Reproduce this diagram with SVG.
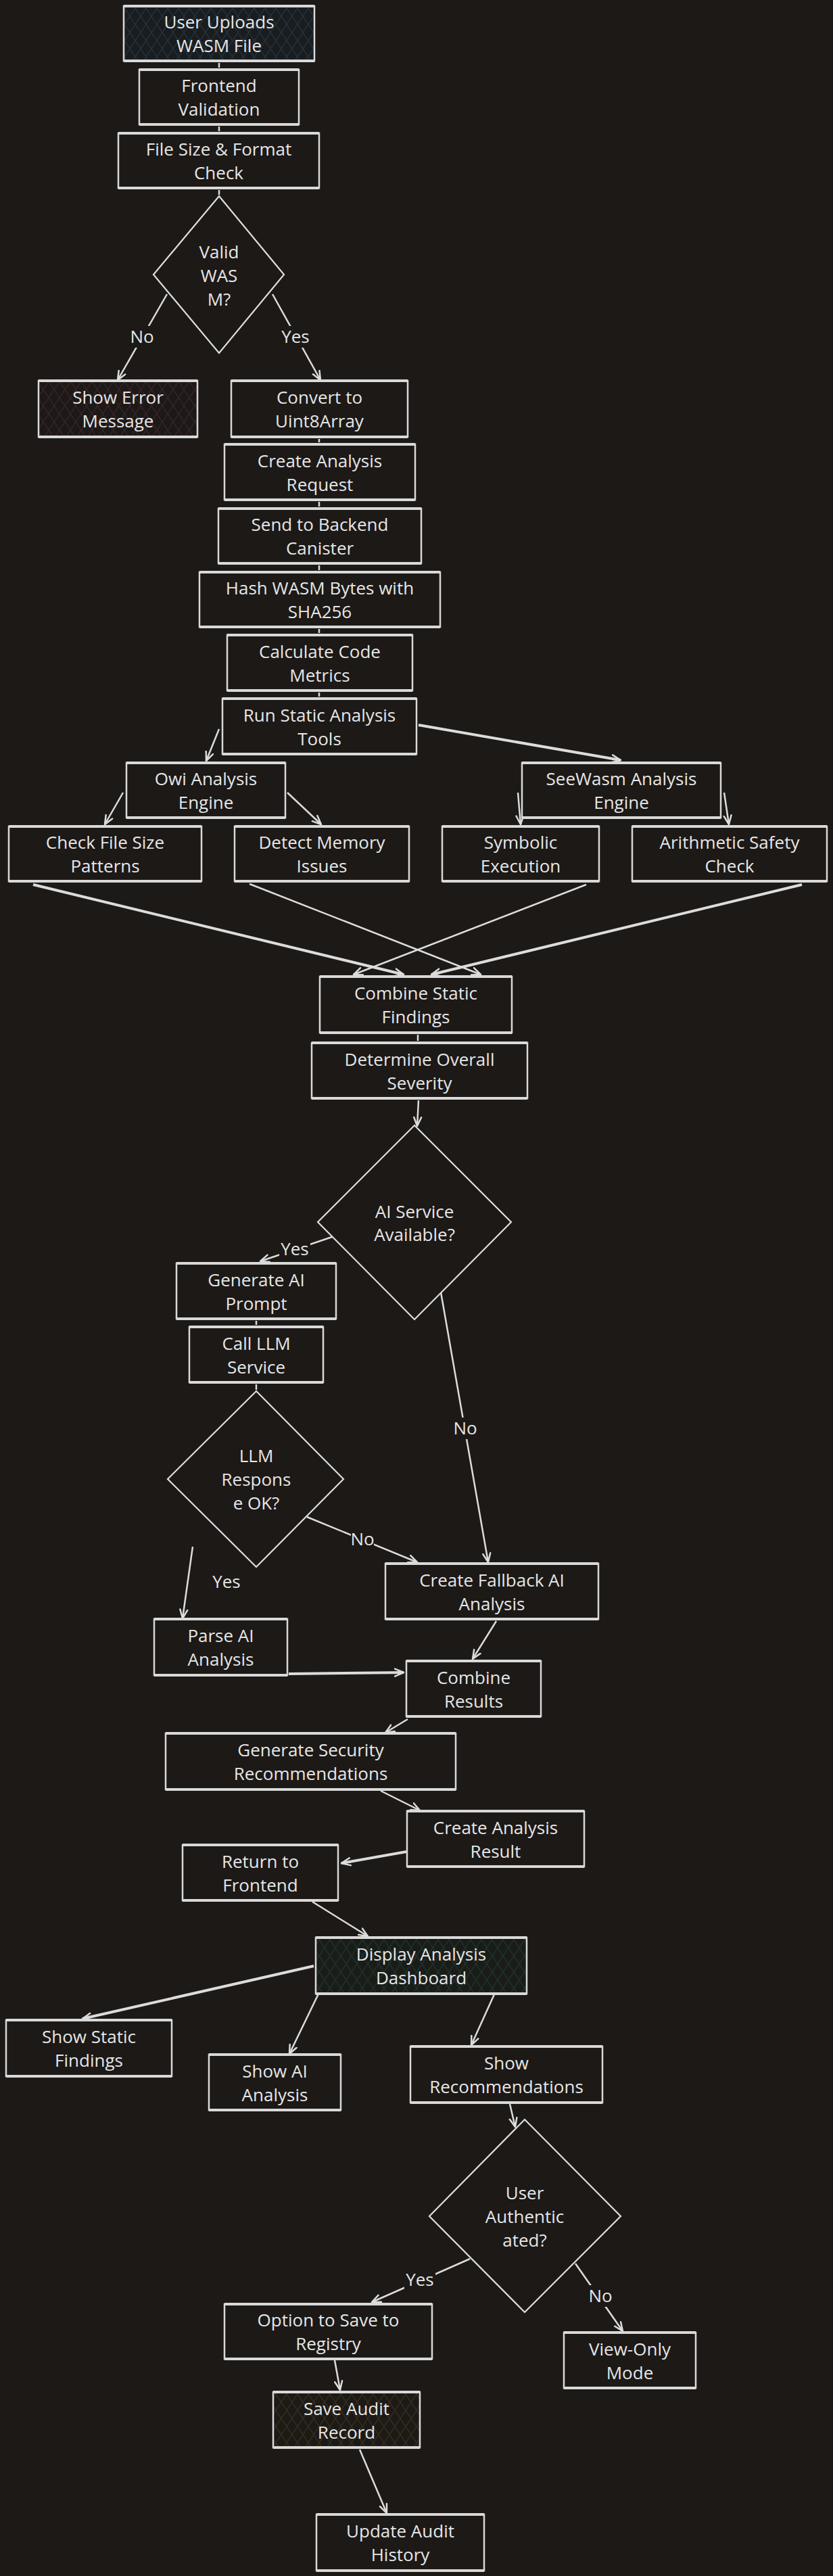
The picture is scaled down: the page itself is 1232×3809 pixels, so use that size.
<svg xmlns="http://www.w3.org/2000/svg" width="1232" height="3809" viewBox="0 0 1232 3809">
<style>
.bg{fill:#1c1917}
.box{fill:#1c1917;stroke:#d9d9d9;stroke-width:2.5}
.edge{stroke:#d9d9d9;stroke-width:4;fill:none}
.dia{fill:#1c1917;stroke:#dedede;stroke-width:2.2}
.t{font-family:"Open Sans","Noto Sans",sans-serif;font-size:26px;fill:#e6e6e6;text-anchor:middle}
.c{stroke:#dcdcdc;stroke-width:2.5;fill:none}
.ck{stroke:#dcdcdc;stroke-width:4;fill:none}
.lb{fill:#1c1917}
</style>
<defs>
<marker id="ah" viewBox="0 0 16 14" markerWidth="16" markerHeight="14" refX="14" refY="7" orient="auto" markerUnits="userSpaceOnUse">
<path d="M1,1.5 L14,7 L1,12.5" fill="none" stroke="#dcdcdc" stroke-width="2.5" stroke-linecap="round" stroke-linejoin="round"/>
</marker>
<pattern id="hBlue" width="16" height="24" patternUnits="userSpaceOnUse"><rect width="16" height="24" fill="#1a1c1e"/><path d="M0,0 L16,24 M16,0 L0,24" stroke="#1f3442" stroke-width="1.3"/></pattern>
<pattern id="hRed" width="16" height="24" patternUnits="userSpaceOnUse"><rect width="16" height="24" fill="#1c1918"/><path d="M0,0 L16,24 M16,0 L0,24" stroke="#3a2226" stroke-width="1.3"/></pattern>
<pattern id="hGreen" width="16" height="24" patternUnits="userSpaceOnUse"><rect width="16" height="24" fill="#1a1c1a"/><path d="M0,0 L16,24 M16,0 L0,24" stroke="#1f3326" stroke-width="1.3"/></pattern>
<pattern id="hOrange" width="16" height="24" patternUnits="userSpaceOnUse"><rect width="16" height="24" fill="#1c1a17"/><path d="M0,0 L16,24 M16,0 L0,24" stroke="#3a2c18" stroke-width="1.3"/></pattern>
</defs>
<rect class="bg" x="0" y="0" width="1232" height="3809"/>

<g id="connectors">
<path class="c" d="M324,93 L324,100"/>
<path class="c" d="M324,187 L324,194"/>
<path class="c" d="M324,281 L324,288"/>
<path class="c" d="M472,649 L472,654"/>
<path class="c" d="M472,742 L472,749"/>
<path class="c" d="M472,836 L472,843"/>
<path class="c" d="M472,930 L472,936"/>
<path class="c" d="M472,1024 L472,1030"/>
<path class="c" d="M618,1530 L618,1539"/>
<path class="c" d="M379,1953 L379,1959"/>
<path class="c" d="M379,2047 L379,2055"/>
<path class="c" d="M247,435 L174,562" marker-end="url(#ah)"/>
<path class="c" d="M403,435 L474,562" marker-end="url(#ah)"/>
<path class="c" d="M324,1078 L305,1125" marker-end="url(#ah)"/>
<path class="ck" d="M619,1072 L918,1124" marker-end="url(#ah)"/>
<path class="c" d="M182,1172 L155,1219" marker-end="url(#ah)"/>
<path class="c" d="M425,1172 L475,1219" marker-end="url(#ah)"/>
<path class="c" d="M766,1172 L770,1219" marker-end="url(#ah)"/>
<path class="c" d="M1071,1172 L1078,1219" marker-end="url(#ah)"/>
<path class="ck" d="M49,1308 L597,1441" marker-end="url(#ah)"/>
<path class="c" d="M369,1307 L711,1441" marker-end="url(#ah)"/>
<path class="c" d="M867,1308 L523,1441" marker-end="url(#ah)"/>
<path class="ck" d="M1186,1308 L638,1441" marker-end="url(#ah)"/>
<path class="c" d="M619,1627 L617,1665" marker-end="url(#ah)"/>
<path class="c" d="M491,1829 L385,1865" marker-end="url(#ah)"/>
<path class="c" d="M651,1905 L722,2310" marker-end="url(#ah)"/>
<path class="c" d="M454,2243 L617,2310" marker-end="url(#ah)"/>
<path class="c" d="M285,2287 L270,2393" marker-end="url(#ah)"/>
<path class="c" d="M734,2397 L699,2453" marker-end="url(#ah)"/>
<path class="ck" d="M427,2475 L597,2473" marker-end="url(#ah)"/>
<path class="c" d="M603,2542 L570,2562" marker-end="url(#ah)"/>
<path class="c" d="M563,2648 L621,2677" marker-end="url(#ah)"/>
<path class="ck" d="M601,2738 L505,2755" marker-end="url(#ah)"/>
<path class="c" d="M462,2812 L544,2863" marker-end="url(#ah)"/>
<path class="ck" d="M464,2907 L122,2985" marker-end="url(#ah)"/>
<path class="c" d="M475,2940 L428,3037" marker-end="url(#ah)"/>
<path class="c" d="M731,2949 L697,3024" marker-end="url(#ah)"/>
<path class="c" d="M754,3111 L762,3145" marker-end="url(#ah)"/>
<path class="c" d="M695,3340 L550,3404" marker-end="url(#ah)"/>
<path class="c" d="M851,3347 L921,3447" marker-end="url(#ah)"/>
<path class="c" d="M495,3490 L503,3534" marker-end="url(#ah)"/>
<path class="c" d="M532,3622 L572,3716" marker-end="url(#ah)"/>
<rect class="lb" x="193" y="482" width="34" height="32"/><text class="t" x="210" y="507">No</text>
<rect class="lb" x="414" y="482" width="46" height="32"/><text class="t" x="437" y="507">Yes</text>
<rect class="lb" x="413" y="1831" width="46" height="32"/><text class="t" x="436" y="1856">Yes</text>
<rect class="lb" x="671" y="2096" width="34" height="32"/><text class="t" x="688" y="2121">No</text>
<rect class="lb" x="519" y="2260" width="34" height="32"/><text class="t" x="536" y="2285">No</text>
<text class="t" x="335" y="2348">Yes</text>
<rect class="lb" x="598" y="3355" width="46" height="32"/><text class="t" x="621" y="3380">Yes</text>
<rect class="lb" x="871" y="3379" width="34" height="32"/><text class="t" x="888" y="3404">No</text>
</g>

<g id="n1"><rect class="box" x="183" y="9" width="282" height="81" style="fill:url(#hBlue)"/><path class="edge" d="M183,9 H465 M183,90 H465"/><text class="t" x="324" y="42">User Uploads</text><text class="t" x="324" y="77">WASM File</text></g>
<g id="n2"><rect class="box" x="206" y="103" width="236" height="81"/><path class="edge" d="M206,103 H442 M206,184 H442"/><text class="t" x="324" y="136">Frontend</text><text class="t" x="324" y="171">Validation</text></g>
<g id="n3"><rect class="box" x="175" y="197" width="297" height="81"/><path class="edge" d="M175,197 H472 M175,278 H472"/><text class="t" x="323.5" y="230">File Size &amp; Format</text><text class="t" x="323.5" y="265">Check</text></g>
<g id="d1"><path class="dia" d="M324,290 L420,406 L324,522 L227,406 Z"/><text class="t" x="324" y="382">Valid</text><text class="t" x="324" y="417">WAS</text><text class="t" x="324" y="452">M?</text></g>
<g id="n4"><rect class="box" x="57" y="563" width="235" height="83" style="fill:url(#hRed)"/><path class="edge" d="M57,563 H292 M57,646 H292"/><text class="t" x="174.5" y="597">Show Error</text><text class="t" x="174.5" y="632">Message</text></g>
<g id="n5"><rect class="box" x="342" y="563" width="261" height="83"/><path class="edge" d="M342,563 H603 M342,646 H603"/><text class="t" x="472.5" y="597">Convert to</text><text class="t" x="472.5" y="632">Uint8Array</text></g>
<g id="n6"><rect class="box" x="332" y="657" width="282" height="82"/><path class="edge" d="M332,657 H614 M332,739 H614"/><text class="t" x="473" y="690.5">Create Analysis</text><text class="t" x="473" y="725.5">Request</text></g>
<g id="n7"><rect class="box" x="323" y="752" width="300" height="81"/><path class="edge" d="M323,752 H623 M323,833 H623"/><text class="t" x="473" y="785">Send to Backend</text><text class="t" x="473" y="820">Canister</text></g>
<g id="n8"><rect class="box" x="295" y="846" width="356" height="81"/><path class="edge" d="M295,846 H651 M295,927 H651"/><text class="t" x="473" y="879">Hash WASM Bytes with</text><text class="t" x="473" y="914">SHA256</text></g>
<g id="n9"><rect class="box" x="336" y="939" width="274" height="82"/><path class="edge" d="M336,939 H610 M336,1021 H610"/><text class="t" x="473" y="972.5">Calculate Code</text><text class="t" x="473" y="1007.5">Metrics</text></g>
<g id="n10"><rect class="box" x="329" y="1033" width="287" height="82"/><path class="edge" d="M329,1033 H616 M329,1115 H616"/><text class="t" x="472.5" y="1066.5">Run Static Analysis</text><text class="t" x="472.5" y="1101.5">Tools</text></g>
<g id="n11"><rect class="box" x="187" y="1128" width="235" height="81"/><path class="edge" d="M187,1128 H422 M187,1209 H422"/><text class="t" x="304.5" y="1161">Owi Analysis</text><text class="t" x="304.5" y="1196">Engine</text></g>
<g id="n12"><rect class="box" x="772" y="1128" width="294" height="81"/><path class="edge" d="M772,1128 H1066 M772,1209 H1066"/><text class="t" x="919" y="1161">SeeWasm Analysis</text><text class="t" x="919" y="1196">Engine</text></g>
<g id="n13"><rect class="box" x="13" y="1222" width="285" height="81"/><path class="edge" d="M13,1222 H298 M13,1303 H298"/><text class="t" x="155.5" y="1255">Check File Size</text><text class="t" x="155.5" y="1290">Patterns</text></g>
<g id="n14"><rect class="box" x="347" y="1222" width="258" height="81"/><path class="edge" d="M347,1222 H605 M347,1303 H605"/><text class="t" x="476" y="1255">Detect Memory</text><text class="t" x="476" y="1290">Issues</text></g>
<g id="n15"><rect class="box" x="654" y="1222" width="232" height="81"/><path class="edge" d="M654,1222 H886 M654,1303 H886"/><text class="t" x="770" y="1255">Symbolic</text><text class="t" x="770" y="1290">Execution</text></g>
<g id="n16"><rect class="box" x="935" y="1222" width="288" height="81"/><path class="edge" d="M935,1222 H1223 M935,1303 H1223"/><text class="t" x="1079" y="1255">Arithmetic Safety</text><text class="t" x="1079" y="1290">Check</text></g>
<g id="n17"><rect class="box" x="473" y="1444" width="284" height="83"/><path class="edge" d="M473,1444 H757 M473,1527 H757"/><text class="t" x="615" y="1478">Combine Static</text><text class="t" x="615" y="1513">Findings</text></g>
<g id="n18"><rect class="box" x="461" y="1542" width="319" height="82"/><path class="edge" d="M461,1542 H780 M461,1624 H780"/><text class="t" x="620.5" y="1575.5">Determine Overall</text><text class="t" x="620.5" y="1610.5">Severity</text></g>
<g id="d2"><path class="dia" d="M613,1664 L756,1807 L613,1951 L470,1807 Z"/><text class="t" x="613" y="1801">AI Service</text><text class="t" x="613" y="1835">Available?</text></g>
<g id="n19"><rect class="box" x="261" y="1868" width="236" height="82"/><path class="edge" d="M261,1868 H497 M261,1950 H497"/><text class="t" x="379" y="1901.5">Generate AI</text><text class="t" x="379" y="1936.5">Prompt</text></g>
<g id="n20"><rect class="box" x="280" y="1962" width="198" height="82"/><path class="edge" d="M280,1962 H478 M280,2044 H478"/><text class="t" x="379" y="1995.5">Call LLM</text><text class="t" x="379" y="2030.5">Service</text></g>
<g id="d3"><path class="dia" d="M379,2057 L508,2187 L379,2317 L248,2187 Z"/><text class="t" x="379" y="2162">LLM</text><text class="t" x="379" y="2197">Respons</text><text class="t" x="379" y="2232">e OK?</text></g>
<g id="n21"><rect class="box" x="570" y="2312" width="315" height="82"/><path class="edge" d="M570,2312 H885 M570,2394 H885"/><text class="t" x="727.5" y="2345.5">Create Fallback AI</text><text class="t" x="727.5" y="2380.5">Analysis</text></g>
<g id="n22"><rect class="box" x="228" y="2394" width="197" height="83"/><path class="edge" d="M228,2394 H425 M228,2477 H425"/><text class="t" x="326.5" y="2428">Parse AI</text><text class="t" x="326.5" y="2463">Analysis</text></g>
<g id="n23"><rect class="box" x="601" y="2456" width="199" height="82"/><path class="edge" d="M601,2456 H800 M601,2538 H800"/><text class="t" x="700.5" y="2489.5">Combine</text><text class="t" x="700.5" y="2524.5">Results</text></g>
<g id="n24"><rect class="box" x="245" y="2563" width="429" height="83"/><path class="edge" d="M245,2563 H674 M245,2646 H674"/><text class="t" x="459.5" y="2597">Generate Security</text><text class="t" x="459.5" y="2632">Recommendations</text></g>
<g id="n25"><rect class="box" x="602" y="2678" width="262" height="82"/><path class="edge" d="M602,2678 H864 M602,2760 H864"/><text class="t" x="733" y="2711.5">Create Analysis</text><text class="t" x="733" y="2746.5">Result</text></g>
<g id="n26"><rect class="box" x="270" y="2728" width="230" height="82"/><path class="edge" d="M270,2728 H500 M270,2810 H500"/><text class="t" x="385" y="2761.5">Return to</text><text class="t" x="385" y="2796.5">Frontend</text></g>
<g id="n27"><rect class="box" x="467" y="2865" width="312" height="83" style="fill:url(#hGreen)"/><path class="edge" d="M467,2865 H779 M467,2948 H779"/><text class="t" x="623" y="2899">Display Analysis</text><text class="t" x="623" y="2934">Dashboard</text></g>
<g id="n28"><rect class="box" x="9" y="2987" width="245" height="83"/><path class="edge" d="M9,2987 H254 M9,3070 H254"/><text class="t" x="131.5" y="3021">Show Static</text><text class="t" x="131.5" y="3056">Findings</text></g>
<g id="n29"><rect class="box" x="309" y="3038" width="195" height="82"/><path class="edge" d="M309,3038 H504 M309,3120 H504"/><text class="t" x="406.5" y="3071.5">Show AI</text><text class="t" x="406.5" y="3106.5">Analysis</text></g>
<g id="n30"><rect class="box" x="607" y="3026" width="284" height="83"/><path class="edge" d="M607,3026 H891 M607,3109 H891"/><text class="t" x="749" y="3060">Show</text><text class="t" x="749" y="3095">Recommendations</text></g>
<g id="d4"><path class="dia" d="M776,3134 L918,3277 L776,3419 L635,3277 Z"/><text class="t" x="776" y="3252">User</text><text class="t" x="776" y="3287">Authentic</text><text class="t" x="776" y="3322">ated?</text></g>
<g id="n31"><rect class="box" x="332" y="3407" width="307" height="81"/><path class="edge" d="M332,3407 H639 M332,3488 H639"/><text class="t" x="485.5" y="3440">Option to Save to</text><text class="t" x="485.5" y="3475">Registry</text></g>
<g id="n32"><rect class="box" x="834" y="3449" width="195" height="82"/><path class="edge" d="M834,3449 H1029 M834,3531 H1029"/><text class="t" x="931.5" y="3482.5">View-Only</text><text class="t" x="931.5" y="3517.5">Mode</text></g>
<g id="n33"><rect class="box" x="404" y="3537" width="217" height="82" style="fill:url(#hOrange)"/><path class="edge" d="M404,3537 H621 M404,3619 H621"/><text class="t" x="512.5" y="3570.5">Save Audit</text><text class="t" x="512.5" y="3605.5">Record</text></g>
<g id="n34"><rect class="box" x="468" y="3718" width="248" height="83"/><path class="edge" d="M468,3718 H716 M468,3801 H716"/><text class="t" x="592" y="3752">Update Audit</text><text class="t" x="592" y="3787">History</text></g>
</svg>
